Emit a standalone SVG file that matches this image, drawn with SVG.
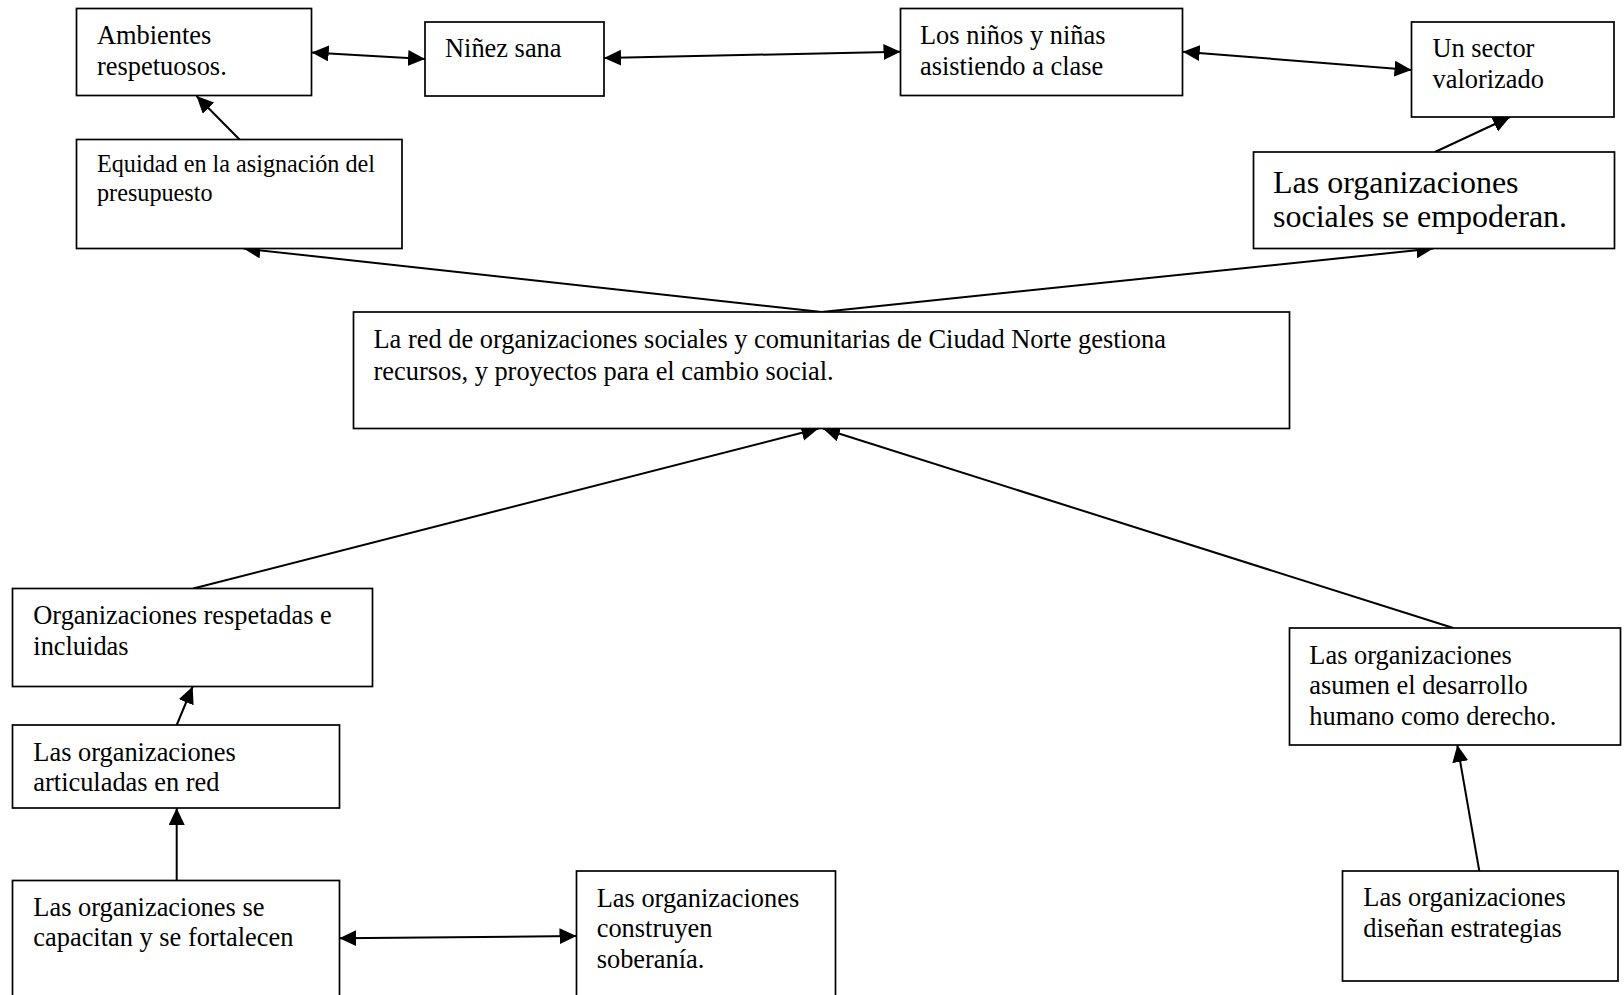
<svg xmlns="http://www.w3.org/2000/svg" width="1624" height="995" viewBox="0 0 1624 995">
<defs>
<style>
.box{fill:#fff;stroke:#000;stroke-width:1.7}
.t{font-family:"Liberation Serif","Times New Roman",serif;font-size:26.4px;fill:#000}
.ts{font-size:24.2px}
.tl{font-size:32px}
.c{stroke:#000;stroke-width:2;fill:none}
</style>
<marker id="ah" markerUnits="userSpaceOnUse" markerWidth="18" markerHeight="18" refX="17" refY="8" orient="auto-start-reverse" viewBox="0 0 18 18">
<path d="M0,0 L17,8 L0,16 z" fill="#000"/>
</marker>
</defs>
<rect width="1624" height="995" fill="#fff"/>
<g id="connectors">
<line class="c" x1="311.7" y1="52.5" x2="425" y2="59" marker-start="url(#ah)" marker-end="url(#ah)"/>
<line class="c" x1="604" y1="58" x2="900.5" y2="51.7" marker-start="url(#ah)" marker-end="url(#ah)"/>
<line class="c" x1="1182.7" y1="51.7" x2="1411.5" y2="70" marker-start="url(#ah)" marker-end="url(#ah)"/>
<line class="c" x1="239.5" y1="139.5" x2="196.5" y2="96" marker-end="url(#ah)"/>
<line class="c" x1="1435" y1="152" x2="1510" y2="117" marker-end="url(#ah)"/>
<line class="c" x1="821.7" y1="312" x2="243.5" y2="248.5" marker-end="url(#ah)"/>
<line class="c" x1="821.7" y1="312" x2="1433.3" y2="248.5" marker-end="url(#ah)"/>
<line class="c" x1="193.3" y1="588.5" x2="818.5" y2="428.5" marker-end="url(#ah)"/>
<line class="c" x1="1453.3" y1="628" x2="823" y2="428.5" marker-end="url(#ah)"/>
<line class="c" x1="176.7" y1="725" x2="192.7" y2="686.5" marker-end="url(#ah)"/>
<line class="c" x1="176.7" y1="880.5" x2="176.7" y2="808" marker-end="url(#ah)"/>
<line class="c" x1="339.3" y1="938.3" x2="576.5" y2="936" marker-start="url(#ah)" marker-end="url(#ah)"/>
<line class="c" x1="1479.3" y1="871" x2="1457.3" y2="745" marker-end="url(#ah)"/>
</g>
<g id="n-ambientes">
<rect class="box" x="76.5" y="8.5" width="235" height="87"/>
<text class="t" x="97" y="43.5">Ambientes</text>
<text class="t" x="97" y="74.5">respetuosos.</text>
</g>
<g id="n-ninez">
<rect class="box" x="425" y="22" width="179" height="74"/>
<text class="t" x="445" y="57">Niñez sana</text>
</g>
<g id="n-ninos">
<rect class="box" x="900.5" y="8.5" width="282" height="87"/>
<text class="t" x="920" y="43.5">Los niños y niñas</text>
<text class="t" x="920" y="74.5">asistiendo a clase</text>
</g>
<g id="n-sector">
<rect class="box" x="1411.5" y="22" width="202.5" height="95"/>
<text class="t" x="1432.5" y="57">Un sector</text>
<text class="t" x="1432.5" y="88">valorizado</text>
</g>
<g id="n-equidad">
<rect class="box" x="76.5" y="139.5" width="325.5" height="109"/>
<text class="t ts" x="97" y="171.5">Equidad en la asignación del</text>
<text class="t ts" x="97" y="200.5">presupuesto</text>
</g>
<g id="n-empoderan">
<rect class="box" x="1253.5" y="152" width="361" height="96.5"/>
<text class="t tl" x="1273" y="193">Las organizaciones</text>
<text class="t tl" x="1273" y="226.5">sociales se empoderan.</text>
</g>
<g id="n-red">
<rect class="box" x="353.5" y="312" width="936" height="116.5"/>
<text class="t" x="373.5" y="348">La red de organizaciones sociales y comunitarias de Ciudad Norte gestiona</text>
<text class="t" x="373.5" y="380">recursos, y proyectos para el cambio social.</text>
</g>
<g id="n-respetadas">
<rect class="box" x="12.5" y="588.5" width="360" height="98"/>
<text class="t" x="33.3" y="624">Organizaciones respetadas e</text>
<text class="t" x="33.3" y="654.5">incluidas</text>
</g>
<g id="n-articuladas">
<rect class="box" x="12.5" y="725" width="327" height="83"/>
<text class="t" x="33.3" y="760.5">Las organizaciones</text>
<text class="t" x="33.3" y="791">articuladas en red</text>
</g>
<g id="n-capacitan">
<rect class="box" x="12.5" y="880.5" width="327" height="130"/>
<text class="t" x="33.3" y="915.5">Las organizaciones se</text>
<text class="t" x="33.3" y="946">capacitan y se fortalecen</text>
</g>
<g id="n-soberania">
<rect class="box" x="576.5" y="871" width="259" height="140"/>
<text class="t" x="596.7" y="906.5">Las organizaciones</text>
<text class="t" x="596.7" y="937">construyen</text>
<text class="t" x="596.7" y="967.5">soberanía.</text>
</g>
<g id="n-asumen">
<rect class="box" x="1289.5" y="628" width="331" height="117"/>
<text class="t" x="1309.3" y="663.5">Las organizaciones</text>
<text class="t" x="1309.3" y="694">asumen el desarrollo</text>
<text class="t" x="1309.3" y="724.5">humano como derecho.</text>
</g>
<g id="n-disenan">
<rect class="box" x="1342.5" y="871" width="275.5" height="110"/>
<text class="t" x="1363.3" y="906">Las organizaciones</text>
<text class="t" x="1363.3" y="936.5">diseñan estrategias</text>
</g>
</svg>
